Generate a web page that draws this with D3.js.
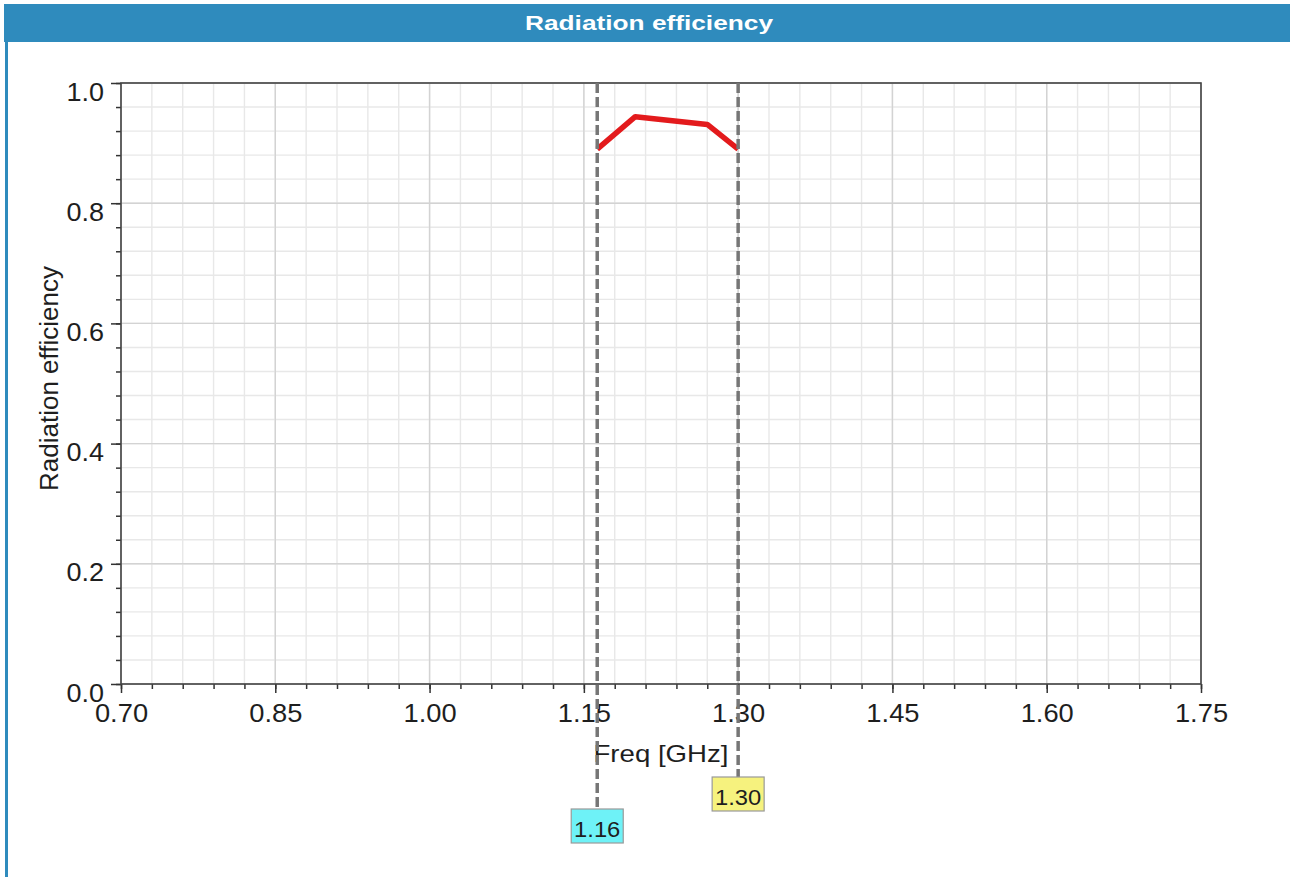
<!DOCTYPE html>
<html>
<head>
<meta charset="utf-8">
<script src="https://cdn.jsdelivr.net/npm/d3@7/dist/d3.min.js"></script>
<style>
  html, body { margin: 0; padding: 0; background: #fff; }
  svg { display: block; }
  text { font-family: "Liberation Sans", Arial, Helvetica, sans-serif; }
</style>
</head>
<body>
<svg id="chart" width="1290" height="877"></svg>
<script>
// Radiation efficiency versus frequency (GHz)
const freqGHz = [1.163, 1.20, 1.27, 1.30];
const efficiency = [0.890, 0.944, 0.931, 0.890];

// Band-edge markers
const markerFreqs = [1.163, 1.30];

// Axis ticks
const xTickValues = [0.70, 0.85, 1.00, 1.15, 1.30, 1.45, 1.60, 1.75];
const xMinorStep = 0.03;
const yTickValues = [0.0, 0.2, 0.4, 0.6, 0.8, 1.0];
const yMinorStep = 0.04;

const chartTitle = "Radiation efficiency";
const xTitle = "Freq [GHz]";
const yTitle = "Radiation efficiency";

// ---- layout & style ----
const W = 1290, H = 877;
const plot = { left: 121, top: 83, right: 1201, bottom: 684 };
const blue = "#2f8bbd";
const markerFill = ["#6ef2f7", "#f6f27e"];
const markerBoxTop = [809, 777];

const svg = d3.select("#chart");

const x = d3.scaleLinear().domain([0.70, 1.75]).range([plot.left, plot.right]);
const y = d3.scaleLinear().domain([0, 1]).range([plot.bottom, plot.top]);

// widen text horizontally by a factor
function stretch(sel, k) {
  sel.each(function () {
    const w = this.getComputedTextLength();
    d3.select(this).attr("textLength", w * k).attr("lengthAdjust", "spacingAndGlyphs");
  });
}

// header bar and left frame edge
svg.append("rect").attr("x", 4).attr("y", 4).attr("width", W - 4).attr("height", 38).attr("fill", blue);
svg.append("rect").attr("x", 5).attr("y", 4).attr("width", 3).attr("height", H - 4).attr("fill", blue);
svg.append("text")
  .attr("x", 649).attr("y", 30)
  .attr("text-anchor", "middle")
  .attr("fill", "#fff").attr("font-weight", "bold").attr("font-size", 21)
  .text(chartTitle)
  .call(stretch, 1.25);

// grid: minor then major lines
const eps = 1e-9;
const xMinor = d3.range(0.70, 1.75 + eps, xMinorStep);
const yMinor = d3.range(0, 1 + eps, yMinorStep);

const grid = svg.append("g");
grid.selectAll(".vminor").data(xMinor).join("line")
  .attr("x1", d => x(d)).attr("x2", d => x(d))
  .attr("y1", plot.top).attr("y2", plot.bottom)
  .attr("stroke", "#e8e8e8").attr("stroke-width", 1.4);
grid.selectAll(".hminor").data(yMinor).join("line")
  .attr("y1", d => y(d)).attr("y2", d => y(d))
  .attr("x1", plot.left).attr("x2", plot.right)
  .attr("stroke", "#e8e8e8").attr("stroke-width", 1.4);
grid.selectAll(".vmajor").data(xTickValues).join("line")
  .attr("x1", d => x(d)).attr("x2", d => x(d))
  .attr("y1", plot.top).attr("y2", plot.bottom)
  .attr("stroke", "#d3d3d3").attr("stroke-width", 1.4);
grid.selectAll(".hmajor").data(yTickValues).join("line")
  .attr("y1", d => y(d)).attr("y2", d => y(d))
  .attr("x1", plot.left).attr("x2", plot.right)
  .attr("stroke", "#d3d3d3").attr("stroke-width", 1.4);

// axes
const axisColor = "#333";
const xAxisMinor = svg.append("g").attr("transform", `translate(0,${plot.bottom})`)
  .call(d3.axisBottom(x).tickValues(xMinor).tickSize(5).tickFormat(""));
const xAxis = svg.append("g").attr("transform", `translate(0,${plot.bottom})`)
  .call(d3.axisBottom(x).tickValues(xTickValues).tickSize(9).tickPadding(11).tickFormat(d3.format(".2f")));
const yAxisMinor = svg.append("g").attr("transform", `translate(${plot.left},0)`)
  .call(d3.axisLeft(y).tickValues(yMinor).tickSize(5).tickFormat(""));
const yAxis = svg.append("g").attr("transform", `translate(${plot.left},0)`)
  .call(d3.axisLeft(y).tickValues(yTickValues).tickSize(10).tickPadding(7).tickFormat(d3.format(".1f")));

[xAxisMinor, xAxis, yAxisMinor, yAxis].forEach(g => {
  g.select(".domain").remove();
  g.selectAll(".tick line").attr("stroke", axisColor).attr("stroke-width", 1.5);
});
xAxis.selectAll(".tick text")
  .attr("font-size", 26).attr("fill", "#1e1e1e").attr("font-family", null)
  .call(stretch, 1.05);
yAxis.selectAll(".tick text")
  .attr("font-size", 25).attr("fill", "#1e1e1e").attr("font-family", null)
  .attr("dy", "0.68em")
  .call(stretch, 1.08);

// plot frame
svg.append("rect")
  .attr("x", plot.left).attr("y", plot.top)
  .attr("width", plot.right - plot.left).attr("height", plot.bottom - plot.top)
  .attr("fill", "none").attr("stroke", "#444").attr("stroke-width", 1.6);

// axis titles
svg.append("text")
  .attr("x", (plot.left + plot.right) / 2).attr("y", 762)
  .attr("text-anchor", "middle").attr("font-size", 24).attr("fill", "#1e1e1e")
  .text(xTitle)
  .call(stretch, 1.15);
svg.append("text")
  .attr("transform", `translate(57.5,${378.5}) rotate(-90)`)
  .attr("text-anchor", "middle").attr("font-size", 26).attr("fill", "#1e1e1e")
  .text(yTitle);

// efficiency curve
const pts = freqGHz.map((f, i) => [f, efficiency[i]]);
svg.append("path")
  .datum(pts)
  .attr("d", d3.line().x(d => x(d[0])).y(d => y(d[1])))
  .attr("fill", "none").attr("stroke", "#e31a1c").attr("stroke-width", 5.5)
  .attr("stroke-linejoin", "round");

// markers: dashed lines with value boxes
const fmt = d3.format(".2f");
markerFreqs.forEach((f, i) => {
  const mx = x(f);
  const top = markerBoxTop[i];
  svg.append("line")
    .attr("x1", mx).attr("x2", mx).attr("y1", plot.top).attr("y2", top)
    .attr("stroke", "#767676").attr("stroke-width", 3.5).attr("stroke-dasharray", "10,4");
  const bw = 52, bh = 34;
  svg.append("rect")
    .attr("x", mx - bw / 2).attr("y", top).attr("width", bw).attr("height", bh)
    .attr("fill", markerFill[i]).attr("stroke", "#999").attr("stroke-width", 1.2);
  svg.append("text")
    .attr("x", mx).attr("y", top + 28)
    .attr("text-anchor", "middle").attr("font-size", 22).attr("fill", "#1e1e1e")
    .text(fmt(f))
    .call(stretch, 1.08);
});
</script>
</body>
</html>
